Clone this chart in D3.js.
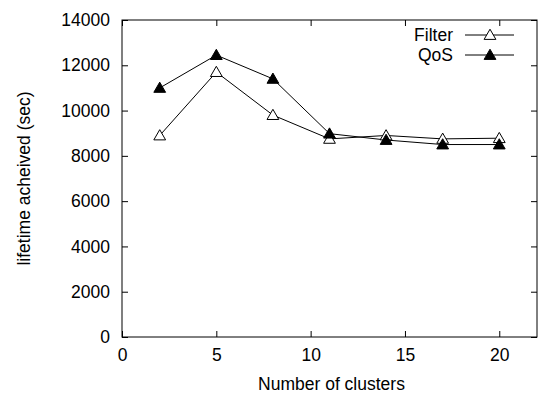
<!DOCTYPE html>
<html><head><meta charset="utf-8">
<script src="https://cdn.jsdelivr.net/npm/d3@7"></script>
<style>body{margin:0;background:#fff}svg{display:block}text{font-family:"Liberation Sans",Arial,sans-serif;fill:#000}</style>
</head><body>
<script>
const clusters = [2, 5, 8, 11, 14, 17, 20];
const filterValues = [8900, 11700, 9800, 8750, 8900, 8750, 8780];
const qosValues = [11000, 12450, 11400, 8980, 8700, 8500, 8500];
const xTicks = [0, 5, 10, 15, 20];
const yTicks = [0, 2000, 4000, 6000, 8000, 10000, 12000, 14000];
const seriesNames = ["Filter", "QoS"];

const W = 541, H = 398;
const m = {l: 122, r: 4, t: 20, b: 61};
const svg = d3.select("body").append("svg").attr("width", W).attr("height", H);
const x = d3.scaleLinear().domain([0, 22]).range([m.l, W - m.r]);
const y = d3.scaleLinear().domain([0, 14000]).range([H - m.b, m.t]);
const fs = 17.5, tl = 6;

// frame
svg.append("rect").attr("x", x(0)).attr("y", y(14000)).attr("width", x(22) - x(0)).attr("height", y(0) - y(14000))
  .attr("fill", "none").attr("stroke", "#000").attr("stroke-width", 1);

// axes
const xa = svg.append("g").attr("transform", `translate(0,${y(0)})`)
  .call(d3.axisBottom(x).tickValues(xTicks).tickSize(-tl).tickPadding(12).tickFormat(d3.format("d")));
const xat = svg.append("g").attr("transform", `translate(0,${y(14000)})`)
  .call(d3.axisTop(x).tickValues(xTicks).tickSize(-tl).tickFormat(""));
const ya = svg.append("g").attr("transform", `translate(${x(0)},0)`)
  .call(d3.axisLeft(y).tickValues(yTicks).tickSize(-tl).tickPadding(12).tickFormat(d3.format("d")));
const yar = svg.append("g").attr("transform", `translate(${x(22)},0)`)
  .call(d3.axisRight(y).tickValues(yTicks).tickSize(-tl).tickFormat(""));
[xa, xat, ya, yar].forEach(g => {
  g.select(".domain").remove();
  g.selectAll("line").attr("stroke", "#000");
  g.selectAll("text").attr("font-size", fs).attr("font-family", null).attr("fill", "#000");
});

// labels
svg.append("text").attr("x", (x(0) + x(22)) / 2 + 2).attr("y", 390).attr("text-anchor", "middle")
  .attr("font-size", fs).text("Number of clusters");
svg.append("text").attr("transform", `translate(30,${(y(0) + y(14000)) / 2}) rotate(-90)`).attr("text-anchor", "middle")
  .attr("font-size", fs).text("lifetime acheived (sec)");

const line = d3.line().x((d, i) => x(clusters[i])).y(d => y(d));
const tri = d3.symbol(d3.symbolTriangle).size(60);
const series = [filterValues, qosValues];
const fills = ["#fff", "#000"];

series.forEach((vals, s) => {
  svg.append("path").datum(vals).attr("d", line).attr("fill", "none").attr("stroke", "#000").attr("stroke-width", 1);
});
series.forEach((vals, s) => {
  svg.selectAll(null).data(vals).enter().append("path")
    .attr("d", tri).attr("transform", (d, i) => `translate(${x(clusters[i])},${y(d) + 1})`)
    .attr("fill", fills[s]).attr("stroke", "#000").attr("stroke-width", 1);
});

// legend
seriesNames.forEach((name, s) => {
  const ly = 35 + s * 20;
  svg.append("text").attr("x", 453).attr("y", ly).attr("dy", "0.35em").attr("text-anchor", "end")
    .attr("font-size", fs).text(name);
  svg.append("line").attr("x1", 465).attr("x2", 514).attr("y1", ly).attr("y2", ly).attr("stroke", "#000");
  svg.append("path").attr("d", tri).attr("transform", `translate(490,${ly + 1})`)
    .attr("fill", fills[s]).attr("stroke", "#000");
});
</script>
</body></html>
